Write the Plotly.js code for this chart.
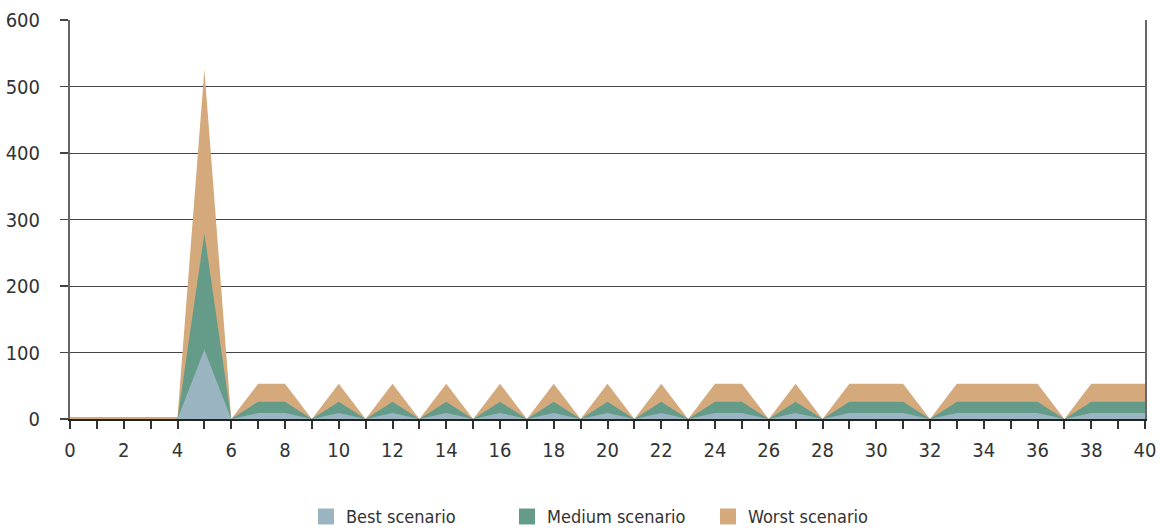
<!DOCTYPE html>
<html>
<head>
<meta charset="utf-8">
<script src="https://cdn.plot.ly/plotly-3.0.1.min.js"></script>
<style>
html,body{margin:0;padding:0;background:#fff;}
#chart{width:1160px;height:528px;}
</style>
</head>
<body>
<div id="chart"></div>
<script>
const xValues = [0,1,2,3,4,5,6,7,8,9,10,11,12,13,14,15,16,17,18,19,20,21,22,23,24,25,26,27,28,29,30,31,32,33,34,35,36,37,38,39,40];
const bestScenario   = [0,0,0,0,0,104,0,9,9,0,9,0,9,0,9,0,9,0,9,0,9,0,9,0,9,9,0,9,0,9,9,9,0,9,9,9,9,0,9,9,9];
const mediumScenario = [0,0,0,0,0,279,0,26,26,0,26,0,26,0,26,0,26,0,26,0,26,0,26,0,26,26,0,26,0,26,26,26,0,26,26,26,26,0,26,26,26];
const worstScenario  = [3,3,3,3,3,526,0,53,53,0,53,0,53,0,53,0,53,0,53,0,53,0,53,0,53,53,0,53,0,53,53,53,0,53,53,53,53,0,53,53,53];
const seriesNames = ["Best scenario","Medium scenario","Worst scenario"];
const xTickVals = [0,2,4,6,8,10,12,14,16,18,20,22,24,26,28,30,32,34,36,38,40];
const yTickVals = [0,100,200,300,400,500,600];

const FONT = "'Liberation Sans Narrow', 'DejaVu Sans Condensed', 'Arial Narrow', sans-serif";
const colors = ["#9ab5c1", "#659c89", "#d4aa7d"];

function area(y, name, color){
  return {x:xValues, y:y, name:name, type:"scatter", mode:"lines", showlegend:false,
    fill:"tozeroy", fillcolor:color, line:{width:0, color:color}, hoverinfo:"x+y+name"};
}
function legendItem(name, color){
  return {x:[null], y:[null], name:name, type:"scatter", mode:"markers",
    marker:{symbol:"square", size:16, color:color}, showlegend:true, hoverinfo:"skip"};
}
const data = [
  area(worstScenario, seriesNames[2], colors[2]),
  area(mediumScenario, seriesNames[1], colors[1]),
  area(bestScenario, seriesNames[0], colors[0]),
  legendItem(seriesNames[0], colors[0]),
  legendItem(seriesNames[1], colors[1]),
  legendItem(seriesNames[2], colors[2])
];

const layout = {
  width:1160, height:528,
  margin:{l:70, r:15, t:20, b:108.5, autoexpand:false},
  paper_bgcolor:"#fff", plot_bgcolor:"#fff",
  font:{family:FONT, size:20, color:"#333"},
  showlegend:true,
  legend:{orientation:"h", x:0.5, xanchor:"center", y:-0.245, yanchor:"middle",
    font:{family:FONT, size:18, color:"#333"}, itemwidth:30, entrywidth:156, entrywidthmode:"pixels"},
  xaxis:{range:[0,40], tickvals:xTickVals, ticktext:xTickVals.map(String),
    ticks:"outside", ticklen:8, tickwidth:2, tickcolor:"#333",
    minor:{dtick:1, ticks:"outside", ticklen:8, tickwidth:2, tickcolor:"#333", showgrid:false},
    showline:true, linecolor:"#222", linewidth:2, showgrid:false, zeroline:false,
    ticklabelstandoff:4, tickfont:{family:FONT, size:20, color:"#333"}, fixedrange:true},
  yaxis:{range:[0,600], tickvals:yTickVals, ticks:"outside", ticklen:8, tickwidth:1.5, tickcolor:"#444",
    showline:true, linecolor:"#666", linewidth:2, mirror:true,
    showgrid:true, gridcolor:"#444", gridwidth:1, zeroline:false,
    ticklabelstandoff:16, tickfont:{family:FONT, size:20, color:"#333"}, fixedrange:true}
};
Plotly.newPlot("chart", data, layout, {displayModeBar:false, staticPlot:true});
</script>
</body>
</html>
